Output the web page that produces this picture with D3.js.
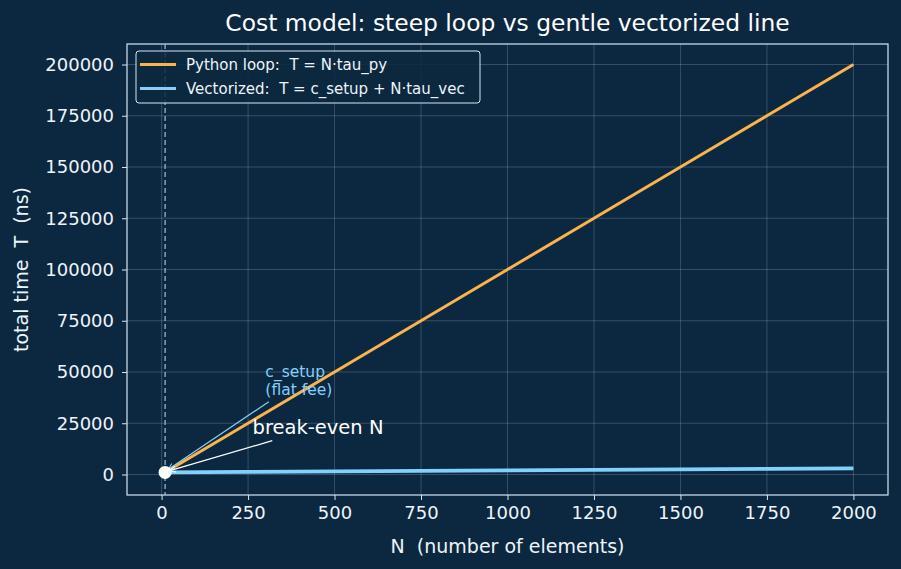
<!DOCTYPE html>
<html>
<head>
<meta charset="utf-8">
<script src="https://cdn.jsdelivr.net/npm/d3@7"></script>
<style>
body { margin: 0; background: #0c2840; }
text { font-family: "DejaVu Sans", sans-serif; white-space: pre; }
</style>
</head>
<body>
<div id="chart"></div>
<script>
// cost model values
var tauPy = 100;      // ns per element, python loop
var tauVec = 1;       // ns per element, vectorized
var cSetup = 1000;    // ns flat fee
var nValues = [0, 250, 500, 750, 1000, 1250, 1500, 1750, 2000];
var loopValues = [0, 25000, 50000, 75000, 100000, 125000, 150000, 175000, 200000];
var vecValues = [1000, 1250, 1500, 1750, 2000, 2250, 2500, 2750, 3000];
var xTicks = [0, 250, 500, 750, 1000, 1250, 1500, 1750, 2000];
var yTicks = [0, 25000, 50000, 75000, 100000, 125000, 150000, 175000, 200000];
var breakEven = cSetup / (tauPy - tauVec);

var svgwidth = 901, svgheight = 569;
var margin = {top: 44, bottom: 74, left: 127, right: 13};
var width = svgwidth - margin.left - margin.right;
var height = svgheight - margin.top - margin.bottom;

var svg = d3.select("#chart").append("svg").attr("width", svgwidth).attr("height", svgheight);
svg.append("rect").attr("width", svgwidth).attr("height", svgheight).attr("fill", "#0c2840");
var defs = svg.append("defs");
[["headBlue", "#83d0fb"], ["headWhite", "#ffffff"]].forEach(function(m) {
    defs.append("marker").attr("id", m[0]).attr("viewBox", "0 0 10 10").attr("refX", 9).attr("refY", 5)
        .attr("markerWidth", 6).attr("markerHeight", 6).attr("orient", "auto")
        .append("path").attr("d", "M0,1 L9,5 L0,9").attr("fill", "none").attr("stroke", m[1]).attr("stroke-width", 1.5);
});
var g = svg.append("g").attr("transform", `translate(${margin.left}, ${margin.top})`);

var x = d3.scaleLinear().domain([-100, 2100]).range([0, width]);
var y = d3.scaleLinear().domain([-10000, 210000]).range([height, 0]);

// grid
g.append("g").selectAll("line").data(xTicks).enter().append("line")
    .attr("x1", d => x(d)).attr("x2", d => x(d)).attr("y1", 0).attr("y2", height)
    .attr("stroke", "#b8cde0").attr("stroke-opacity", 0.3).attr("stroke-width", 0.8);
g.append("g").selectAll("line").data(yTicks).enter().append("line")
    .attr("y1", d => y(d)).attr("y2", d => y(d)).attr("x1", 0).attr("x2", width)
    .attr("stroke", "#b8cde0").attr("stroke-opacity", 0.3).attr("stroke-width", 0.8);

// axes
var xAxis = g.append("g").attr("transform", `translate(0, ${height})`)
    .call(d3.axisBottom(x).tickValues(xTicks).tickFormat(d3.format("d")).tickSize(5).tickPadding(6));
var yAxis = g.append("g")
    .call(d3.axisLeft(y).tickValues(yTicks).tickFormat(d3.format("d")).tickSize(5).tickPadding(8));
[xAxis, yAxis].forEach(function(a) {
    a.select(".domain").remove();
    a.attr("font-size", null).attr("font-family", null);
    a.selectAll("line").attr("stroke", "#d6e6f5");
    a.selectAll("text").attr("fill", "#eef4fa").style("font-size", "18px");
});
g.append("rect").attr("width", width).attr("height", height).attr("fill", "none")
    .attr("stroke", "#d6e6f5").attr("stroke-width", 1.2);

// break-even dashed line
g.append("line").attr("x1", x(breakEven)).attr("x2", x(breakEven)).attr("y1", 0).attr("y2", height)
    .attr("stroke", "#a9c0d6").attr("stroke-width", 1.2).attr("stroke-dasharray", "5,3");

var line = d3.line().x(d => x(d[0])).y(d => y(d[1]));
g.append("path").datum(nValues.map((n, i) => [n, loopValues[i]])).attr("d", line)
    .attr("fill", "none").attr("stroke", "#fbb34c").attr("stroke-width", 3);
g.append("path").datum(nValues.map((n, i) => [n, vecValues[i]])).attr("d", line)
    .attr("fill", "none").attr("stroke", "#83d0fb").attr("stroke-width", 3.8);

// annotations
var bx = x(breakEven), by = y(cSetup + breakEven * tauVec);
g.append("line").attr("x1", x(310)).attr("y1", y(35500)).attr("x2", bx + 3).attr("y2", by - 3)
    .attr("stroke", "#83d0fb").attr("stroke-width", 1.2).attr("marker-end", "url(#headBlue)");
g.append("line").attr("x1", x(320)).attr("y1", y(16500)).attr("x2", bx + 4).attr("y2", by - 1.5)
    .attr("stroke", "#ffffff").attr("stroke-width", 1.2).attr("marker-end", "url(#headWhite)");
g.append("text").attr("x", x(300)).attr("y", y(47500)).attr("fill", "#83d0fb").style("font-size", "15.5px").text("c_setup");
g.append("text").attr("x", x(300)).attr("y", y(39000)).attr("fill", "#83d0fb").style("font-size", "15.5px").text("(flat fee)");
g.append("text").attr("x", x(263)).attr("y", y(20000)).attr("fill", "#ffffff").style("font-size", "19.5px").text("break-even N");

g.append("circle").attr("cx", bx).attr("cy", by).attr("r", 6.5).attr("fill", "#ffffff");

// legend
var leg = g.append("g").attr("transform", "translate(9, 7)");
leg.append("rect").attr("width", 344).attr("height", 52).attr("rx", 3)
    .attr("fill", "#0c2840").attr("fill-opacity", 0.85).attr("stroke", "#d6e6f5").attr("stroke-width", 1);
var legItems = [["Python loop:  T = N\u00b7tau_py", "#fbb34c"], ["Vectorized:  T = c_setup + N\u00b7tau_vec", "#83d0fb"]];
legItems.forEach(function(d, i) {
    var yy = 13.5 + i * 24;
    leg.append("line").attr("x1", 4).attr("x2", 40).attr("y1", yy).attr("y2", yy).attr("stroke", d[1]).attr("stroke-width", 3);
    leg.append("text").attr("x", 50).attr("y", yy + 5).attr("fill", "#eef4fa").style("font-size", "15px").text(d[0]);
});

// titles
svg.append("text").attr("x", margin.left + width / 2).attr("y", 31).attr("text-anchor", "middle")
    .attr("fill", "#ffffff").style("font-size", "23.4px").text("Cost model: steep loop vs gentle vectorized line");
svg.append("text").attr("x", margin.left + width / 2).attr("y", 553).attr("text-anchor", "middle")
    .attr("fill", "#eef4fa").style("font-size", "19px").text("N  (number of elements)");
svg.append("text").attr("transform", `translate(28, ${margin.top + height / 2}) rotate(-90)`).attr("text-anchor", "middle")
    .attr("fill", "#eef4fa").style("font-size", "19px").text("total time  T  (ns)");
</script>
</body>
</html>
